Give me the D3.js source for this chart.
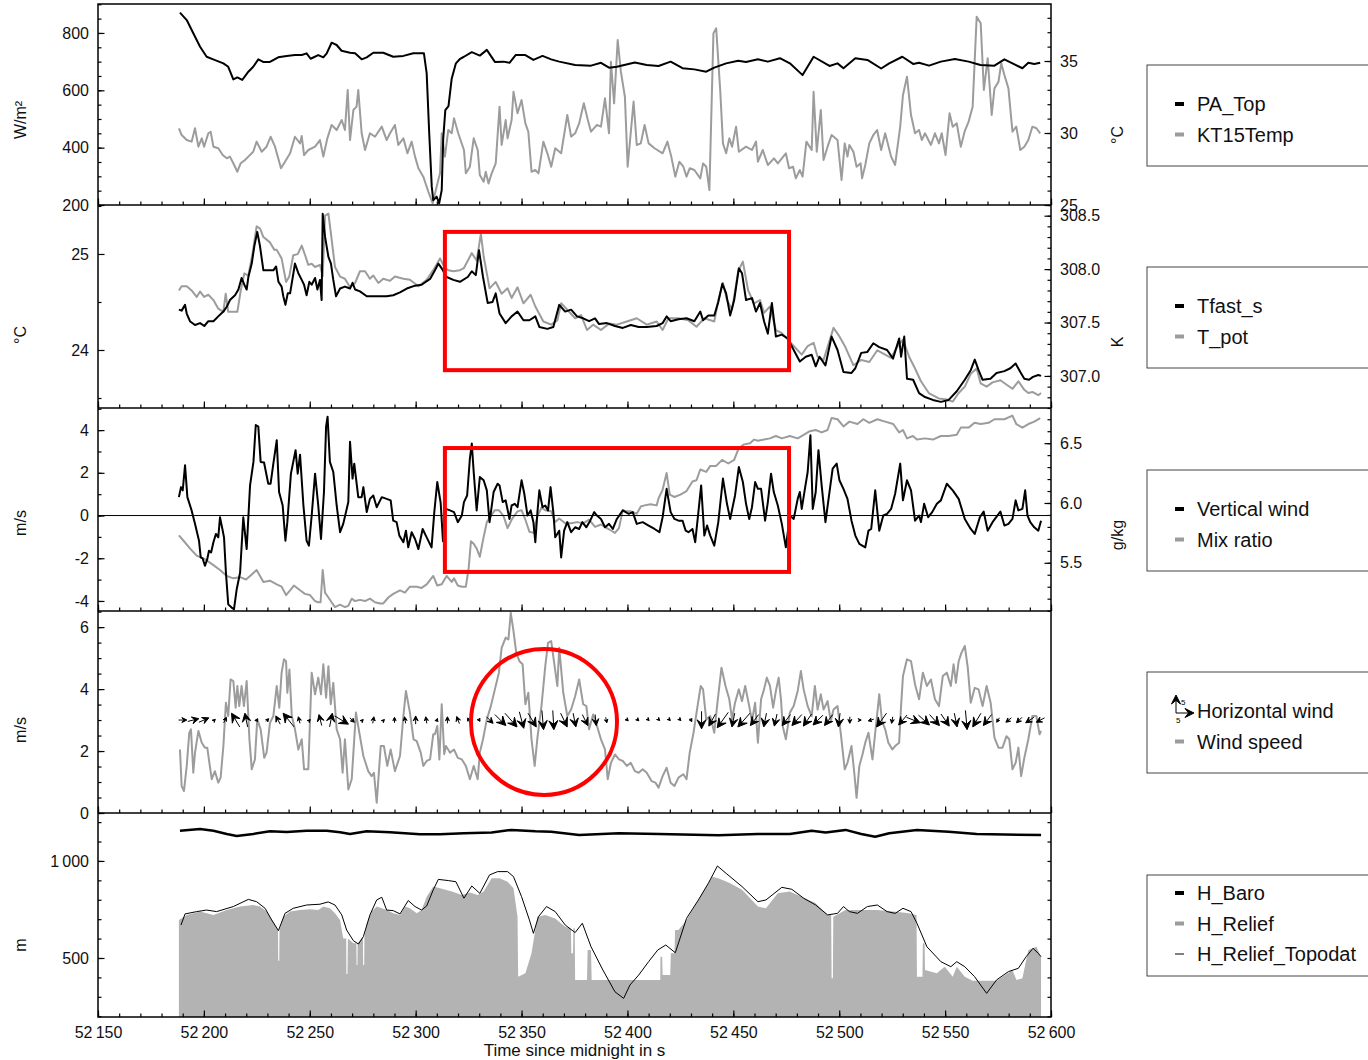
<!DOCTYPE html>
<html>
<head>
<meta charset="utf-8">
<script src="https://cdn.jsdelivr.net/npm/d3@7"></script>
<style>
body { margin: 0; background: #fff; }
</style>
</head>
<body>
<div id="chart"></div>
<script>
// ---- data (time in s since midnight) ----
const paTop = [[52188.7,871],[52191.9,845],[52195,799],[52198.2,752],[52201.3,717],[52204.4,708],[52209.2,694],[52211.5,682],[52213.9,638],[52215.8,645],[52218.1,636],[52221,665],[52223.3,682],[52225.7,708],[52228,699],[52231.2,699],[52235.1,715],[52239.1,720],[52243,723],[52246.2,723],[52248.5,729],[52250.4,710],[52254,723],[52256.4,715],[52258,729],[52260.3,766],[52262.7,758],[52265,738],[52269,731],[52271.4,729],[52274.5,708],[52276.9,715],[52280,731],[52284.7,731],[52289.4,717],[52294.2,720],[52298.9,729],[52303.9,729],[52305.2,659],[52306.4,450],[52307.6,264],[52308.3,217],[52309.9,229],[52311.1,206],[52312.3,252],[52313,430],[52314,531],[52315.5,545],[52317,640],[52319,694],[52321,710],[52322.8,717],[52326.5,733],[52330.3,721],[52333.6,741],[52337.4,699],[52341.5,700],[52344.3,696],[52347.2,723],[52351.8,723],[52355.6,706],[52359.9,720],[52364,708],[52367.8,700],[52375.3,688],[52382.8,686],[52387.5,696],[52391.3,679],[52395,682],[52403.5,697],[52409.1,688],[52414.7,685],[52420.4,700],[52426,677],[52431.6,673],[52437.2,665],[52441,679],[52446.6,694],[52452.3,703],[52456,699],[52461.6,708],[52466.3,700],[52472,712],[52476.7,694],[52482.7,653],[52487.9,717],[52495.4,685],[52499.2,694],[52502,677],[52507.6,712],[52513.3,706],[52519.8,676],[52523.6,694],[52529.8,717],[52534.9,692],[52537.7,696],[52542.4,686],[52548,700],[52554.6,709],[52561.1,700],[52566.7,688],[52573.3,686],[52578,708],[52581.8,694],[52586.5,677],[52589.3,696],[52592.1,692],[52594.9,696]];

const kt15Temp = [[52188.2,30.33],[52189.5,29.86],[52191.9,29.51],[52194.2,29.4],[52195.8,30.33],[52197.4,29.05],[52199,29.63],[52200.1,29.05],[52202.1,29.98],[52203.2,30.09],[52204.5,29.05],[52206.8,28.94],[52208.9,28.47],[52210.8,28.24],[52212.3,28.36],[52213.9,27.9],[52215.8,27.31],[52217.4,27.9],[52219.4,28.13],[52221,28.36],[52223.3,28.7],[52224.9,29.4],[52227.3,28.7],[52229.6,29.05],[52231.5,29.74],[52233.6,29.05],[52236.4,27.55],[52238.8,28.13],[52240.7,28.59],[52243,29.74],[52245.4,29.28],[52246.2,29.79],[52247.3,28.47],[52249.3,28.82],[52252.5,29.05],[52254.8,29.51],[52256.4,28.36],[52258.3,29.63],[52260.3,30.56],[52262.7,30.21],[52265.1,30.9],[52266.6,30.21],[52267.9,32.99],[52269,29.51],[52270.6,31.6],[52272.1,31.83],[52272.9,32.99],[52274.5,29.98],[52276.1,28.82],[52278.4,29.98],[52280.8,29.74],[52284,30.44],[52286.3,29.51],[52287.9,29.98],[52290.2,30.56],[52291.8,29.17],[52294.2,29.63],[52296.1,28.59],[52298.1,29.4],[52299.7,28.36],[52301.3,27.55],[52303.6,26.97],[52306,25.92],[52308,25.12],[52309.9,26.27],[52311.5,27.2],[52312.3,29.98],[52313.8,28.36],[52315.4,30.21],[52317,29.98],[52318.1,31.02],[52320.1,29.98],[52322.8,28.82],[52323.7,27.2],[52325.6,27.66],[52327.4,29.63],[52329.3,28.82],[52330.3,27.08],[52332.1,26.62],[52333.1,27.31],[52334.4,26.5],[52335.9,27.2],[52337.8,27.89],[52339.6,31.83],[52340.6,29.17],[52342.5,30.9],[52343.4,29.63],[52345.3,30.9],[52346.2,32.87],[52348.1,31.37],[52350,32.29],[52351.8,30.67],[52353.2,30.09],[52354.7,27.31],[52356.5,27.43],[52358,27.2],[52360.3,29.4],[52362.2,28.59],[52364,27.66],[52365.9,28.94],[52368.7,28.59],[52371.6,31.25],[52373.4,29.75],[52375.3,29.98],[52377.2,30.67],[52379.4,32.06],[52381.3,30.9],[52382.8,30.09],[52385.6,30.56],[52387.5,30.44],[52389.4,32.41],[52391.3,29.98],[52392.2,34.95],[52393.7,32.06],[52395.4,36.46],[52396.9,34.26],[52398.8,32.52],[52400.1,27.66],[52402.9,32.18],[52404.4,29.17],[52406.3,29.28],[52408.1,30.56],[52410,29.28],[52412.8,28.94],[52416.6,28.59],[52418.9,29.4],[52420.7,28.36],[52422.6,26.97],[52424.5,28.01],[52426.4,27.66],[52427.9,26.97],[52429.4,27.55],[52431.6,27.43],[52434.4,26.85],[52435.7,27.89],[52437.2,27.66],[52438.7,26.04],[52440.6,36.92],[52441.9,37.27],[52443.8,32.99],[52445.1,29.28],[52446.6,28.59],[52448.1,29.63],[52449.4,29.05],[52451.3,30.44],[52452.6,28.7],[52456,29.05],[52458.8,28.82],[52460.7,29.4],[52461.6,28.01],[52463.9,28.82],[52466.3,27.78],[52469.2,28.24],[52471,27.89],[52474.8,28.59],[52476.3,27.55],[52478.2,27.66],[52479.5,26.85],[52481.4,27.43],[52482.7,26.97],[52484.5,29.4],[52487,28.82],[52487.9,32.87],[52489.4,28.7],[52491.3,31.6],[52492.6,28.13],[52494.5,29.05],[52496.4,29.86],[52499.2,29.51],[52501.1,26.74],[52502.6,29.28],[52503.9,28.36],[52504.8,29.17],[52506.7,28.7],[52508.2,27.66],[52510.1,27.89],[52510.8,26.85],[52512.3,27.78],[52514.2,29.28],[52516.1,29.86],[52517.9,30.21],[52519.8,28.82],[52521.7,29.98],[52524.5,28.36],[52526.4,27.78],[52528.8,30.44],[52530.1,32.64],[52532,33.91],[52533.9,31.25],[52535.8,29.98],[52537.7,30.21],[52539,29.51],[52540.5,29.98],[52543.3,29.17],[52545.2,29.98],[52547.1,29.28],[52548.4,29.98],[52550.2,28.47],[52552.1,31.37],[52553.6,30.44],[52555.5,30.67],[52557.4,29.05],[52559.2,30.09],[52561.1,30.79],[52563,31.83],[52564.9,38.08],[52566.8,37.62],[52568.3,32.99],[52570.1,35.19],[52572,31.25],[52573.3,33.1],[52575.2,33.56],[52576.5,34.84],[52578,34.03],[52579.9,33.1],[52581.8,30.09],[52583.6,30.44],[52585.5,28.82],[52587.4,29.05],[52589.3,29.51],[52591.2,30.44],[52593.1,30.33],[52594.9,29.98]];

const tfastS = [[52188.2,24.42],[52189.5,24.41],[52191.1,24.47],[52191.9,24.38],[52193.4,24.3],[52195.8,24.26],[52198.2,24.28],[52200.2,24.25],[52202.1,24.3],[52204.5,24.3],[52206.8,24.35],[52209.2,24.4],[52210.8,24.45],[52212.3,24.52],[52214.7,24.57],[52216.3,24.63],[52217.8,24.75],[52219.1,24.68],[52220.2,24.63],[52221,24.76],[52222.6,24.9],[52223.8,25.08],[52225.2,25.23],[52226.5,25.08],[52228.1,24.83],[52230.4,24.83],[52232.8,24.83],[52234.1,24.87],[52235.2,24.71],[52236.7,24.66],[52237.5,24.56],[52238.5,24.47],[52239.6,24.59],[52240.7,24.59],[52241.9,24.75],[52243,24.9],[52244.6,24.8],[52246.2,24.73],[52247.3,24.68],[52248.5,24.57],[52249.8,24.71],[52250.9,24.68],[52252.5,24.75],[52253.6,24.63],[52254.8,24.73],[52255.6,24.52],[52256.1,25.42],[52257.2,25.18],[52258.8,24.97],[52260,24.9],[52261.1,24.73],[52262.4,24.56],[52264.3,24.64],[52266.6,24.66],[52269,24.64],[52270.2,24.7],[52271.4,24.63],[52273.7,24.61],[52276.9,24.56],[52280,24.56],[52283.2,24.56],[52286.3,24.56],[52289.4,24.57],[52292.6,24.6],[52295.8,24.64],[52299.7,24.67],[52302.8,24.68],[52306.8,24.74],[52309.1,24.83],[52310.7,24.9],[52312.3,24.85],[52314.6,24.76],[52317.8,24.73],[52320.9,24.71],[52324.6,24.76],[52326.5,24.82],[52328.4,24.78],[52329.9,25.04],[52331.8,24.76],[52334,24.49],[52336.3,24.5],[52337.8,24.59],[52339.6,24.38],[52342.5,24.28],[52345.3,24.35],[52348.1,24.4],[52350.9,24.31],[52353.7,24.31],[52356.5,24.35],[52358.4,24.24],[52362.2,24.22],[52365,24.24],[52367.8,24.47],[52370.6,24.4],[52373.4,24.42],[52376.2,24.35],[52379.1,24.33],[52381.9,24.3],[52384.7,24.33],[52386.6,24.27],[52390.3,24.28],[52394.1,24.25],[52397.8,24.23],[52401.6,24.26],[52405.3,24.24],[52409.1,24.24],[52413.8,24.25],[52416.6,24.28],[52418.5,24.35],[52420.4,24.3],[52424.1,24.32],[52427.9,24.33],[52431.6,24.3],[52434.4,24.4],[52435.7,24.31],[52438.2,24.36],[52441,24.36],[52442.9,24.5],[52444.8,24.69],[52446.6,24.59],[52448.5,24.36],[52450.4,24.52],[52452.6,24.85],[52454.1,24.8],[52456,24.52],[52458.8,24.54],[52460.7,24.4],[52462.6,24.49],[52464.5,24.3],[52466.3,24.17],[52468.2,24.49],[52470.1,24.14],[52472.9,24.16],[52475.7,24.12],[52478.5,24],[52481.4,23.88],[52484.2,23.93],[52487,23.95],[52488.9,23.83],[52490.7,23.93],[52493.5,23.84],[52496.4,24.14],[52499.2,24],[52502,23.77],[52505.7,23.76],[52507.6,23.81],[52510.4,23.97],[52513.3,23.98],[52516.1,24.07],[52518.9,24.03],[52522.6,24],[52525.4,23.91],[52528.3,24.12],[52529.2,23.93],[52530.7,24.14],[52532,23.7],[52534.9,23.69],[52537.7,23.55],[52540.5,23.51],[52544.2,23.48],[52548,23.46],[52551.7,23.48],[52555.5,23.57],[52559.3,23.69],[52562.1,23.79],[52564,23.9],[52565.8,23.79],[52567.7,23.69],[52571.4,23.7],[52574.3,23.76],[52578,23.78],[52580.8,23.81],[52583.3,23.86],[52585.5,23.77],[52587.4,23.7],[52589.6,23.69],[52591.5,23.72],[52594,23.74],[52595.3,23.73]];

const tPot = [[52188.2,307.8],[52189.5,307.84],[52191.9,307.84],[52194.2,307.8],[52196.6,307.74],[52198.2,307.79],[52200.1,307.74],[52202.1,307.76],[52204.5,307.71],[52206.8,307.63],[52209.2,307.6],[52210.3,307.77],[52211.5,307.6],[52213.9,307.6],[52215.8,307.6],[52217.4,307.8],[52219.1,307.96],[52221,307.94],[52223,308.15],[52224.9,308.4],[52226.5,308.38],[52228.1,308.3],[52231.2,308.25],[52233.3,308.18],[52234.4,308.18],[52236.7,308.1],[52238.8,307.88],[52240.3,307.93],[52242.2,308.13],[52244.3,308.14],[52246.2,308.22],[52247.8,308.13],[52249.3,308.04],[52250.9,308.05],[52252.5,308.02],[52254.8,308.04],[52256.1,307.93],[52257.2,308.5],[52258.8,308.52],[52260,308.33],[52261.9,308.02],[52264.3,307.93],[52266.6,307.91],[52269,307.83],[52271.4,307.87],[52273.7,307.98],[52276.1,307.98],[52278.4,307.91],[52280,307.94],[52282.4,307.87],[52284.7,307.91],[52287.9,307.89],[52290.2,307.93],[52294.2,307.91],[52297.3,307.9],[52301.3,307.84],[52305.2,307.9],[52308.3,307.99],[52311.5,308.1],[52313.8,308.01],[52315.4,307.99],[52317.8,307.98],[52320.9,307.99],[52322.8,308.01],[52326.5,308.15],[52328.8,308.08],[52330.8,308.33],[52332.1,308.12],[52334.9,307.82],[52337.8,307.88],[52340.6,307.77],[52343.4,307.82],[52345.3,307.73],[52348.1,307.83],[52350.9,307.68],[52354.3,307.76],[52356.5,307.65],[52360.3,307.51],[52364,307.48],[52366.9,307.52],[52368.7,307.68],[52371.6,307.62],[52375.3,307.54],[52378.1,307.57],[52380.9,307.43],[52383.8,307.48],[52387.5,307.43],[52391.3,307.49],[52395,307.48],[52399.7,307.51],[52404.4,307.54],[52409.1,307.48],[52413.8,307.51],[52416.6,307.43],[52419.4,307.54],[52424.1,307.54],[52428.8,307.52],[52432.6,307.46],[52436.3,307.54],[52441,307.51],[52442.9,307.71],[52445.1,307.87],[52447,307.71],[52449.4,307.62],[52452.3,307.98],[52454.5,308.07],[52457,307.8],[52459.8,307.68],[52462.6,307.71],[52464.5,307.59],[52467.3,307.65],[52470.1,307.43],[52472.9,307.4],[52475.7,307.34],[52478.5,307.28],[52482.3,307.2],[52485.1,307.28],[52487.9,307.31],[52489.8,307.18],[52492.6,307.15],[52494.5,307.27],[52497.3,307.45],[52500.1,307.37],[52502.9,307.27],[52506.7,307.1],[52510.4,307.15],[52514.2,307.13],[52518,307.24],[52520.8,307.21],[52524.5,307.17],[52527.3,307.27],[52530.1,307.34],[52533,307.18],[52535.8,307.07],[52538.6,306.95],[52542.3,306.84],[52547,306.79],[52550.8,306.78],[52553.6,306.76],[52556.4,306.84],[52559.3,306.9],[52562.1,307.02],[52564.9,307.07],[52566.8,306.93],[52569.6,306.9],[52572.4,306.94],[52576.1,306.96],[52578.9,306.92],[52581.8,306.88],[52584.6,306.95],[52587.4,306.87],[52589.3,306.84],[52591.2,306.85],[52594,306.82],[52595.3,306.84]];

const verticalWind = [[52188.2,0.86],[52189.2,1.33],[52190,1.18],[52191.1,2.35],[52192.2,0.86],[52194.2,0.24],[52195.8,-0.39],[52197.7,-1.18],[52198.5,-1.96],[52199.4,-2.01],[52200.5,-2.35],[52201.6,-2.04],[52202.4,-1.65],[52203.4,-1.73],[52204.5,-1.25],[52205.7,-0.86],[52206.8,-1.02],[52207.6,-0.08],[52208.9,-0.71],[52209.5,-1.02],[52210.4,-2.67],[52211.5,-4.16],[52213.1,-4.31],[52214.2,-4.39],[52215.5,-3.45],[52217.1,-2.67],[52218.6,-0.08],[52220.2,-1.57],[52221.8,1.41],[52223.4,2.51],[52224.5,4.24],[52225.7,4.16],[52226.8,2.51],[52228.4,2.48],[52230.4,1.49],[52231.5,1.49],[52232.8,2.43],[52234.4,3.53],[52235.5,1.1],[52237.2,0.47],[52238.5,-1.18],[52239.4,-0.31],[52241.1,1.96],[52243.3,3.06],[52244.3,1.96],[52245.4,2.85],[52247,0.47],[52248.5,-1.18],[52249.6,-1.41],[52250.9,0],[52252.5,1.96],[52254,0.47],[52255.3,-1.1],[52256.7,1.1],[52257.7,4.16],[52258.4,4.63],[52259.5,2.51],[52261.1,2.04],[52262.7,0.47],[52264.3,-0.78],[52265.8,-0.39],[52268.2,0.63],[52269,3.45],[52270.2,1.73],[52271,2.43],[52272.9,0.86],[52274.5,0.86],[52275.3,1.33],[52276.9,0.16],[52278.4,0.78],[52280,0.94],[52281.6,0.39],[52284,0.86],[52286.3,0.78],[52288.2,0.71],[52289.4,-0.24],[52291,-0.31],[52292.3,-0.94],[52294.2,-1.25],[52295.4,-0.71],[52296.5,-1.49],[52298.1,-0.78],[52299.7,-1.1],[52301.3,-1.57],[52303.3,-0.63],[52305.2,-1.02],[52307.5,-1.49],[52308.8,0.16],[52310.2,1.57],[52311.8,0.6],[52312.9,-1.2],[52314.3,0.31],[52316.2,0.24],[52318.1,0.16],[52319.9,-0.31],[52321.8,0],[52322.8,0.63],[52324.3,0.94],[52325.6,2.67],[52326.5,3.37],[52327.4,2.04],[52328.8,0.24],[52330.3,1.8],[52332.1,1.65],[52333.6,1.18],[52334.9,-0.31],[52336.8,1.1],[52338.7,1.49],[52339.6,1.41],[52341.1,0.63],[52342.5,0.71],[52344.3,-0.16],[52345.3,0.47],[52346.8,0.55],[52348.1,0.39],[52350,1.65],[52351.3,1.02],[52352.8,0],[52354.3,0.24],[52355.6,-0.31],[52356.5,-1.25],[52357.5,0.16],[52358.4,1.18],[52359.9,0.39],[52361.2,0.47],[52362.5,0.24],[52363.7,1.33],[52365,0.16],[52365.9,-1.02],[52367.8,-0.71],[52368.7,-1.96],[52370.1,-0.71],[52371.6,-0.31],[52373.4,-0.78],[52375.3,-0.55],[52377.2,-0.63],[52378.7,-0.31],[52380.6,-0.55],[52382.4,-0.24],[52384.3,0.16],[52385.6,0],[52387.5,-0.16],[52389.4,-0.55],[52391.3,-0.39],[52393.1,-0.63],[52395,-0.16],[52397.8,0.24],[52400.6,0.08],[52402.5,0.16],[52404.4,-0.39],[52407.2,-0.31],[52410,-0.47],[52412.8,-0.63],[52415.1,-0.78],[52416.6,-0.08],[52418.5,1.25],[52420.4,0.16],[52422.2,-0.16],[52424.1,-0.24],[52426,-0.24],[52427.5,-0.71],[52428.8,-0.78],[52430.7,-0.63],[52432,-1.25],[52433.5,0.16],[52434.8,1.41],[52436.3,-0.94],[52437.6,-0.47],[52439.1,-0.94],[52441,-1.41],[52442.9,-0.31],[52445.1,1.73],[52447,0.55],[52448.5,-0.16],[52450.8,0.94],[52452.6,2.27],[52454.5,1.57],[52456,0.55],[52457.5,-0.16],[52458.8,0.39],[52460.3,1.57],[52461.6,1.25],[52463.1,1.25],[52465,-0.24],[52466.3,0.63],[52467.8,1.96],[52469.1,1.1],[52471,0.47],[52472.9,-0.39],[52474.8,-1.49],[52476.7,0],[52478.5,-0.16],[52480.4,0.78],[52481.4,1.1],[52482.3,0.31],[52483.8,1.25],[52485.1,2.04],[52486.4,3.76],[52487.5,0.31],[52488.9,1.1],[52490.2,3.06],[52491.7,1.41],[52493.5,-0.31],[52495.4,1.1],[52496.9,2.2],[52498.8,2.43],[52500.1,1.65],[52502,1.25],[52503.9,0.78],[52505.8,-0.24],[52507.6,-0.94],[52509.5,-1.33],[52512.3,-1.49],[52513.8,-0.71],[52515.1,-0.63],[52517,1.18],[52518.9,-0.71],[52520.8,0],[52522.6,0.08],[52524.5,0.31],[52526.4,1.02],[52528.8,2.43],[52530.1,0.71],[52532,1.65],[52533.9,1.18],[52535.8,-0.24],[52537.7,0],[52538.6,-0.31],[52540.1,0.55],[52542,-0.08],[52543.9,0.16],[52546.1,0.55],[52548,0.71],[52550.8,1.49],[52553.6,1.18],[52556.4,0.78],[52559.3,-0.16],[52562.1,-0.63],[52564,-0.86],[52566.4,-0.08],[52568.2,0.19],[52570.1,-0.71],[52572.4,-0.31],[52576.1,0.19],[52578,-0.47],[52579.9,-0.39],[52581.8,-0.16],[52583.3,0.71],[52584.6,0.24],[52586.5,0.31],[52587.8,1.18],[52588.9,0],[52590.2,-0.31],[52592.1,-0.55],[52594,-0.71],[52595.3,-0.24]];

const mixRatio = [[52188.2,5.73],[52190.6,5.68],[52193.4,5.62],[52196.6,5.56],[52200.5,5.53],[52204.5,5.48],[52207.6,5.44],[52210.8,5.39],[52213.9,5.37],[52217.1,5.38],[52219.9,5.36],[52221.8,5.39],[52224.9,5.44],[52228.1,5.34],[52231.2,5.35],[52234.4,5.32],[52236.7,5.3],[52238.8,5.23],[52240.7,5.27],[52242.5,5.31],[52245.4,5.27],[52247.7,5.24],[52250.1,5.23],[52252.5,5.18],[52254,5.17],[52255.1,5.17],[52256.1,5.44],[52257.2,5.25],[52258.8,5.21],[52260.3,5.17],[52261.9,5.13],[52264.3,5.15],[52266.6,5.13],[52268.2,5.14],[52269.8,5.2],[52271.4,5.18],[52273.7,5.19],[52276.1,5.18],[52278.4,5.2],[52280.8,5.17],[52283.2,5.16],[52284.7,5.16],[52287.1,5.21],[52289.4,5.24],[52292.6,5.27],[52294.9,5.25],[52297.3,5.3],[52300.5,5.3],[52302.8,5.29],[52305.2,5.32],[52308.3,5.39],[52310.2,5.31],[52312.3,5.32],[52314.6,5.39],[52317,5.34],[52318.1,5.37],[52319.9,5.31],[52321.8,5.3],[52323.7,5.3],[52325,5.45],[52326.1,5.68],[52327.4,5.66],[52328.8,5.62],[52330.3,5.55],[52331.8,5.69],[52333.6,5.84],[52335.5,5.89],[52337.4,5.94],[52339.3,5.94],[52341.5,5.89],[52343.4,5.79],[52345.6,5.87],[52348.1,5.93],[52350,5.94],[52351.8,5.86],[52353.7,5.76],[52355.6,5.75],[52357.5,5.89],[52359.4,5.96],[52361.2,5.94],[52364,5.93],[52365.9,5.84],[52367.8,5.87],[52370.6,5.83],[52373.4,5.83],[52376.2,5.84],[52379.1,5.83],[52381.9,5.86],[52384.7,5.8],[52387.5,5.82],[52390.3,5.79],[52392.2,5.77],[52394.1,5.75],[52396,5.79],[52397.8,5.94],[52399.7,5.93],[52401.6,5.93],[52404.4,5.91],[52406.3,5.97],[52408.1,5.98],[52410.9,5.99],[52413.8,5.98],[52414.7,6.04],[52416.6,6.11],[52418.5,6.25],[52420,6.07],[52422.2,6.05],[52425,6.07],[52427.9,6.1],[52430.7,6.18],[52432.6,6.19],[52434.4,6.28],[52437.2,6.26],[52439.1,6.31],[52441.9,6.31],[52444.7,6.36],[52447.6,6.33],[52450.4,6.36],[52452.6,6.46],[52455.1,6.49],[52457.9,6.5],[52459.8,6.53],[52461.6,6.52],[52464.5,6.53],[52467.3,6.54],[52470.1,6.56],[52472.9,6.54],[52476.7,6.56],[52480.4,6.54],[52483.2,6.57],[52486.1,6.6],[52488.9,6.61],[52491.7,6.59],[52494.5,6.61],[52496.4,6.71],[52499.2,6.7],[52502,6.64],[52504.8,6.68],[52508.6,6.66],[52511.4,6.7],[52514.2,6.67],[52518,6.7],[52521.7,6.68],[52525.5,6.66],[52528.3,6.59],[52530.1,6.61],[52532,6.54],[52534.8,6.56],[52536.7,6.53],[52540.5,6.54],[52544.2,6.53],[52548,6.56],[52551.7,6.56],[52555.5,6.57],[52557.4,6.63],[52561.1,6.63],[52563.9,6.67],[52566.8,6.66],[52570.5,6.67],[52573.3,6.7],[52578,6.7],[52581.8,6.73],[52583.6,6.66],[52586.5,6.63],[52589.3,6.66],[52592.1,6.68],[52594.9,6.71]];

const windSpeed = [[52188.7,2.05],[52189.5,0.87],[52190.6,0.71],[52191.9,1.52],[52193.1,2.59],[52193.9,2.7],[52195,1.3],[52195.8,1.95],[52197.4,2.65],[52199,2.27],[52200.5,2.11],[52201.6,2.11],[52202.6,1.62],[52203.7,1.09],[52205.2,1.35],[52206.8,0.98],[52207.9,1.14],[52209.2,2.16],[52210.4,3.56],[52211.5,3.13],[52212.6,4.31],[52213.9,4.26],[52215,3.4],[52215.8,4.1],[52216.7,3.45],[52217.8,4.1],[52218.9,3.45],[52220.2,4.26],[52221.5,2.38],[52222.6,1.41],[52224.1,1.73],[52225.2,3.02],[52226.8,2.7],[52228.5,1.78],[52229.6,1.95],[52231.2,2.91],[52232.8,3.13],[52234.4,4.1],[52235.6,3.4],[52236.7,4.53],[52237.8,4.96],[52238.8,4.9],[52239.4,3.88],[52240.4,4.63],[52241.5,3.13],[52243,2.7],[52244.6,2.05],[52246.2,2.38],[52247.3,1.41],[52249.3,1.41],[52250.9,4.53],[52252.5,3.83],[52254,4.37],[52255.3,3.83],[52256.4,4.8],[52257.7,3.72],[52258.8,4.74],[52259.9,3.51],[52261.1,4.2],[52262.7,2.7],[52264.3,2.38],[52265.5,1.3],[52266.6,2.38],[52268.2,0.76],[52269.8,1.09],[52271.8,3.24],[52273.4,2.59],[52275.3,1.84],[52277.6,1.35],[52279.2,1.19],[52280.3,1.3],[52281.6,0.33],[52283.5,2.16],[52285,2.16],[52286.6,1.52],[52288.2,2.05],[52290.2,1.35],[52292.6,1.84],[52294.2,3.13],[52295.4,3.94],[52297.3,3.24],[52299,2.38],[52300.5,2.32],[52302.4,1.95],[52303.6,1.52],[52305.2,1.68],[52306.8,1.73],[52308.3,2.54],[52309.1,2.54],[52310.2,2.81],[52311.2,1.73],[52312.3,3.51],[52313.5,1.9],[52314.3,2.16],[52316.2,1.95],[52318.1,2.05],[52319.9,1.78],[52321.8,1.73],[52323.7,1.52],[52325.6,1.09],[52327.4,1.52],[52329.3,1.09],[52330.3,1.95],[52331.8,2.38],[52333.6,3.02],[52335.5,3.45],[52337.4,3.99],[52339.3,4.53],[52340.6,5.33],[52342.5,5.66],[52343.8,5.6],[52344.9,6.46],[52346.2,5.87],[52347.5,5.17],[52349,4.9],[52350.5,4.8],[52351.8,3.51],[52353.2,3.88],[52354.7,2.38],[52356.2,1.52],[52357.5,2.43],[52359.4,3.45],[52361.2,4.74],[52362.5,5.49],[52364,5.55],[52365.5,4.8],[52366.9,4.1],[52367.8,5.33],[52369.7,3.88],[52371.6,3.13],[52373.4,3.34],[52375.3,3.77],[52377.2,4.31],[52379.1,3.51],[52380.6,3.45],[52381.9,2.7],[52383.8,3.18],[52385.6,2.81],[52387.5,2.38],[52389.4,2.05],[52390.7,1.09],[52392.2,1.62],[52394.1,1.89],[52396,1.73],[52397.8,1.68],[52399.7,1.52],[52401.6,1.62],[52403.5,1.35],[52405.3,1.3],[52407.2,1.41],[52409.1,1.3],[52411.4,1.03],[52413.2,0.98],[52414.7,0.82],[52416.6,1.19],[52418.5,1.46],[52420.4,0.98],[52422.2,0.87],[52424.1,1.14],[52426.4,1.25],[52427.9,1.09],[52429.4,1.95],[52431.2,2.59],[52433.1,3.45],[52434.6,4.1],[52435.7,3.99],[52437.2,3.02],[52439.1,3.13],[52441,2.59],[52442.5,3.56],[52444.4,4.69],[52446.3,4.1],[52448.1,3.67],[52449.4,3.02],[52450.8,3.56],[52452.6,3.99],[52454.1,3.61],[52455.6,4.1],[52457.5,3.45],[52458.8,2.97],[52460.3,3.56],[52461.6,2.27],[52463.1,3.67],[52464.5,3.99],[52465.8,4.37],[52467.3,4.1],[52468.8,3.4],[52470.1,3.94],[52471.4,4.37],[52472.5,3.67],[52473.3,2.81],[52474.8,2.38],[52476.7,3.24],[52478.5,3.45],[52480.4,3.94],[52481.9,4.58],[52483.2,3.99],[52485.1,3.45],[52487,3.13],[52488.5,4.1],[52489.8,3.34],[52491.3,3.83],[52492.6,3.34],[52494.5,3.61],[52496,2.97],[52497.3,3.34],[52499.2,3.45],[52500.7,2.59],[52502.6,1.41],[52503.9,1.62],[52505.8,2.16],[52507.1,1.3],[52508.2,0.49],[52509.5,1.52],[52510.8,1.84],[52512.3,2.27],[52513.8,2.59],[52515.7,1.73],[52517,2.59],[52518.9,3.83],[52520.2,2.97],[52521.7,2.7],[52523.2,2.27],[52525.1,2.05],[52526.4,2.16],[52528.3,2.27],[52529.2,3.45],[52530.1,4.42],[52532,4.96],[52533.9,4.9],[52535.8,4.15],[52537.7,3.67],[52539.5,4.53],[52541.4,4.1],[52543.3,4.31],[52545.2,3.67],[52547.1,3.45],[52548.9,4.42],[52550.8,4.53],[52552.7,4.1],[52554,4.8],[52555.1,4.2],[52556.4,4.9],[52557.7,5.17],[52559.3,5.39],[52560.7,4.69],[52562.1,3.56],[52564,4.04],[52565.8,3.99],[52567.7,3.45],[52569.6,4.1],[52571.5,3.56],[52573.3,2.43],[52575.2,2.11],[52577.1,2.11],[52579,2.48],[52580.3,2.38],[52581.8,1.41],[52583.3,1.62],[52584.6,2.11],[52585.9,1.19],[52587.4,1.78],[52589.3,2.38],[52591.2,3.13],[52593.1,3.13],[52594.6,2.54],[52595.3,2.65]];

// horizontal wind vectors (east u, north v in m/s), drawn at the 3 m/s line
const windTime = [52190,52195,52200,52205,52210,52215,52220,52225,52230,52235,52240,52245,52250,52255,52260,52265,52270,52275,52280,52285,52290,52295,52300,52305,52310,52315,52320,52325,52330,52335,52340,52345,52350,52355,52360,52365,52370,52375,52380,52385,52390,52395,52400,52405,52410,52415,52420,52425,52430,52435,52440,52445,52450,52455,52460,52465,52470,52475,52480,52485,52490,52495,52500,52505,52510,52515,52520,52525,52530,52535,52540,52545,52550,52555,52560,52565,52570,52575,52580,52585,52590,52595];
const windU = [1.5,2.0,1.8,0.3,0.5,-1.5,-0.5,0.3,0.5,-0.8,-2.0,-0.3,0.2,-0.5,0.5,2.5,0.8,0.2,0.2,0.2,0,-0.2,0,-0.2,0.2,0,-0.5,-0.3,0.3,1.2,2.0,2.2,0.8,1.5,0.3,0.2,1.2,0.5,1.0,0.2,0.2,0,0.3,0.3,0.2,0.2,0.2,0.2,0.3,0,-1.2,-2.0,-0.5,-2.2,-1.5,-0.5,-0.5,-1.5,-1.8,-1.5,-1.8,-1.5,-0.3,0,0.3,-1.0,-1.8,-0.2,-1.5,2.5,2.0,1.8,1.5,0.5,0.3,-1.5,-1.5,-0.5,-1.0,-1.0,-1.5,-1.5];
const windV = [0,0.5,0.8,0.3,1.0,2.5,2.5,0.5,0.5,1.5,2.5,1.2,0.2,2.0,2.5,-1.5,-0.8,0.2,1.2,0.2,1.0,1.2,1.5,1.2,0.6,1.2,1.3,0.8,-0.5,-1.2,-2.0,-2.5,-3.0,-2.5,-3.5,-3.5,-2.5,-2.5,-2.0,-2.0,-1.0,-0.8,-0.3,-0.3,-0.2,-0.2,-0.2,-0.2,-0.6,-3.2,-2.2,-2.8,-2.5,-2.5,-2.0,-2.5,-2.2,-2.0,-2.0,-2.2,-1.8,-2.0,-2.5,-1.2,0,-0.3,-2.5,-1.2,-1.8,-1.0,-1.8,-2.0,-2.2,-2.5,-3.5,-2.5,-2.0,-0.8,-0.8,-1.0,-1.0,-0.8];

const hBaro = [[52188.7,1156],[52198.2,1165],[52204.5,1156],[52210.8,1139],[52215.5,1129],[52223.3,1139],[52231.2,1153],[52239.1,1149],[52248.5,1155],[52258,1156],[52264.3,1148],[52269,1139],[52276.9,1153],[52287.9,1148],[52302,1137],[52311.5,1137],[52322.8,1143],[52335.9,1146],[52345.3,1160],[52356.5,1153],[52364,1151],[52377.2,1134],[52395.9,1143],[52414.7,1139],[52442.9,1132],[52461.6,1139],[52476.7,1139],[52487,1155],[52493.6,1146],[52503,1160],[52510.4,1139],[52517,1125],[52523.6,1143],[52536.7,1160],[52551.7,1151],[52564.9,1139],[52578,1136],[52595.3,1134]];

const hRelief = [[52188.2,696],[52191.9,722],[52198.2,739],[52204.5,722],[52210.8,747],[52217.1,765],[52223.3,773],[52226.5,765],[52229.6,739],[52232.8,687],[52235,644],[52235.1,486],[52235.6,486],[52235.7,644],[52237.5,713],[52240.7,739],[52245.4,747],[52250.1,751],[52254,747],[52256.4,765],[52259.5,756],[52261.9,730],[52264.3,696],[52265.8,601],[52267.2,601],[52267.3,418],[52267.8,418],[52268,601],[52270.6,576],[52272,576],[52272.1,464],[52272.5,464],[52272.6,576],[52275.1,610],[52275.2,464],[52275.7,464],[52275.8,610],[52276.9,679],[52279.2,739],[52281.6,765],[52284,756],[52286.3,747],[52289.4,730],[52292.6,722],[52295,765],[52297.3,756],[52300.5,730],[52302.8,747],[52305.2,816],[52308.3,868],[52311.5,859],[52317.1,842],[52321.8,825],[52325.6,837],[52329.3,825],[52332.1,842],[52335.9,911],[52339.6,911],[52343.4,893],[52346.2,859],[52348.1,713],[52348.4,404],[52351.8,421],[52354.7,524],[52357.5,713],[52361.2,722],[52365.9,704],[52370.6,661],[52372.5,653],[52373.3,653],[52373.5,524],[52374.3,524],[52374.5,653],[52375.1,653],[52375.3,387],[52380.9,387],[52381.2,541],[52382.8,541],[52383.1,387],[52415.5,387],[52415.6,507],[52416.4,507],[52416.6,412],[52420.2,412],[52420.5,524],[52422.2,524],[52422.5,644],[52424.1,644],[52427.9,696],[52433.5,799],[52440.1,919],[52442.9,911],[52448.5,885],[52454.1,851],[52461.6,765],[52465.4,756],[52471,833],[52476.6,842],[52482.3,816],[52488.9,782],[52494.5,722],[52496.2,722],[52496.4,395],[52497,395],[52497.2,713],[52503,747],[52510.4,747],[52518,747],[52525.5,739],[52533,730],[52536.5,722],[52536.7,404],[52539.3,404],[52539.5,576],[52540.3,576],[52540.5,438],[52546.1,421],[52549.8,455],[52553.6,404],[52555.5,455],[52559.3,404],[52563,383],[52574.3,383],[52581.8,438],[52583.7,387],[52586.5,395],[52589.3,541],[52593.1,558],[52595.3,507]];

const hReliefTopodat = [[52189.2,670],[52191.1,727],[52196.6,739],[52201.3,747],[52206,739],[52213.9,765],[52221,802],[52224.9,790],[52228.9,756],[52232,696],[52235.2,641],[52238.3,730],[52242.2,756],[52248.5,773],[52254.8,777],[52258.7,789],[52261.9,773],[52265.1,722],[52267.4,644],[52270.6,589],[52273,572],[52275.3,610],[52278.4,722],[52281.6,799],[52284,813],[52286.3,747],[52289.4,744],[52292.6,727],[52296.5,796],[52299.7,765],[52302.8,747],[52305.2,768],[52308.3,851],[52310.7,905],[52315.4,899],[52319,893],[52322.8,808],[52326.5,871],[52330.3,833],[52334.9,928],[52338.7,945],[52343.4,945],[52346.2,919],[52350,816],[52353.7,696],[52355.6,627],[52358,713],[52361.8,765],[52365.9,739],[52370.6,670],[52375.3,631],[52378.7,679],[52382.8,558],[52388.4,438],[52394.1,326],[52398.2,292],[52401.2,361],[52405.3,412],[52410,481],[52414.3,541],[52418.1,567],[52422.6,527],[52427.9,704],[52433.5,799],[52438.2,885],[52442.5,974],[52446.6,936],[52454.1,868],[52461.6,790],[52465.4,799],[52472.9,864],[52477.6,854],[52483.2,808],[52488.9,773],[52494.5,722],[52499.2,730],[52502,765],[52504.8,739],[52508.6,730],[52513.3,765],[52518,773],[52522.6,739],[52526.4,730],[52530.1,756],[52533.9,739],[52536.7,679],[52541.4,558],[52548,481],[52552.7,455],[52555.5,481],[52559.3,455],[52563.9,404],[52569.6,318],[52574.3,387],[52579.9,430],[52584.6,447],[52588.3,507],[52591.5,550],[52594,524],[52595.3,507]];

// red annotations in data units
const markBoxes = [
  {panel: 1, t0: 52313.8, t1: 52476.3, v0: 23.79, v1: 25.23},
  {panel: 2, t0: 52313.8, t1: 52476.3, v0: -2.64, v1: 3.16}
];
const markCircle = {t: 52360.6, v: 2.94};

// ---- layout ----
let w = 1368;
let h = 1060;
let left = 98;
let right = 1051;
let tops = [4, 205, 408, 611, 813];
let bottoms = [205, 408, 611, 813, 1017];
const black = "#000";
const grey = "#9c9c9c";
const fontFam = "'Liberation Sans', Arial, sans-serif";

let svg = d3.select("#chart").append("svg")
    .attr("width", w)
    .attr("height", h)
    .style("background-color", "white");

let xScale = d3.scaleLinear().domain([52150, 52600]).range([left, right]);

let yScales = [
  {l: d3.scaleLinear().domain([200, 901]).range([205, 4]),
   r: d3.scaleLinear().domain([25, 38.96]).range([205, 4])},
  {l: d3.scaleLinear().domain([23.396, 25.51]).range([408, 205]),
   r: d3.scaleLinear().domain([306.70, 308.60]).range([408, 205])},
  {l: d3.scaleLinear().domain([-4.47, 5.035]).range([611, 408]),
   r: d3.scaleLinear().domain([5.097, 6.794]).range([611, 408])},
  {l: d3.scaleLinear().domain([0, 6.52]).range([813, 611])},
  {l: d3.scaleLinear().domain([196, 1247]).range([1017, 813])}
];

let locale = d3.formatLocale({decimal: ".", thousands: "\u2009", grouping: [3], currency: ["", ""], minus: "-"});
let fmtInt = locale.format(",");
let fmt1 = locale.format(".1f");

// clip paths
let defs = svg.append("defs");
tops.forEach(function(t, i) {
  defs.append("clipPath").attr("id", "clip" + i)
    .append("rect")
    .attr("x", left).attr("y", t)
    .attr("width", right - left).attr("height", bottoms[i] - t);
});

function drawLine(panel, data, ys, color, width) {
  let maker = d3.line()
      .x(d => xScale(d[0]))
      .y(d => ys(d[1]));
  svg.append("path")
    .datum(data)
    .attr("clip-path", "url(#clip" + panel + ")")
    .attr("d", maker)
    .attr("fill", "none")
    .attr("stroke", color)
    .attr("stroke-width", width)
    .attr("stroke-linejoin", "round");
}

// ---- panel 5 relief (filled) ----
let ys5 = yScales[4].l;
svg.append("path")
  .datum(hRelief)
  .attr("clip-path", "url(#clip4)")
  .attr("d", d3.area()
      .x(d => xScale(d[0]))
      .y0(ys5(196))
      .y1(d => ys5(d[1])))
  .attr("fill", "#b3b3b3");
drawLine(4, hReliefTopodat, ys5, black, 1);
drawLine(4, hBaro, ys5, black, 2.5);

// ---- panel 1..4 lines ----
drawLine(0, kt15Temp, yScales[0].r, grey, 2);
drawLine(0, paTop, yScales[0].l, black, 2);
drawLine(1, tPot, yScales[1].r, grey, 2);
drawLine(1, tfastS, yScales[1].l, black, 2);
drawLine(2, mixRatio, yScales[2].r, grey, 2);
// zero line
svg.append("line")
  .attr("x1", left).attr("x2", right)
  .attr("y1", yScales[2].l(0)).attr("y2", yScales[2].l(0))
  .attr("stroke", black).attr("stroke-width", 1);
drawLine(2, verticalWind, yScales[2].l, black, 2);
drawLine(3, windSpeed, yScales[3].l, grey, 2);

// wind arrows
let arrowK = 5.5;
function arrowPath(cx, cy, u, v, k) {
  let len = Math.hypot(u, v) * k;
  if (len < 0.3) return "";
  let dx = u * k / len, dy = -v * k / len;
  let tx = cx - dx * len / 2, ty = cy - dy * len / 2;
  let hx = cx + dx * len / 2, hy = cy + dy * len / 2;
  let hl = Math.max(3, Math.min(9, len * 0.6));
  let hw = hl * 0.5;
  let bx = hx - dx * hl, by = hy - dy * hl;
  let px = -dy, py = dx;
  let nx = hx - dx * hl * 0.6, ny = hy - dy * hl * 0.6;
  return "M" + tx + "," + ty + "L" + nx + "," + ny +
    "M" + hx + "," + hy + "L" + (bx + px * hw) + "," + (by + py * hw) +
    "L" + nx + "," + ny +
    "L" + (bx - px * hw) + "," + (by - py * hw) + "Z";
}
let arrowG = svg.append("g");
windTime.forEach(function(t, i) {
  arrowG.append("path")
    .attr("d", arrowPath(xScale(t), yScales[3].l(3), windU[i], windV[i], arrowK))
    .attr("fill", black)
    .attr("stroke", black)
    .attr("stroke-width", 1);
});

// ---- frames ----
svg.append("rect")
  .attr("x", left).attr("y", tops[0])
  .attr("width", right - left).attr("height", bottoms[4] - tops[0])
  .attr("fill", "none").attr("stroke", black).attr("stroke-width", 1.5);
bottoms.slice(0, 4).forEach(function(b) {
  svg.append("line").attr("x1", left).attr("x2", right)
    .attr("y1", b).attr("y2", b)
    .attr("stroke", black).attr("stroke-width", 1.5);
});

// ---- axes ----
function styleAxis(g) {
  g.select(".domain").remove();
  g.attr("font-family", fontFam).attr("font-size", 16);
  g.selectAll("line").attr("stroke", black).attr("stroke-width", 1.2);
  g.selectAll("text").attr("fill", "#111");
}

function leftAxis(ys, major, minor, format) {
  let g1 = svg.append("g").attr("transform", "translate(" + left + ",0)")
    .call(d3.axisLeft(ys).tickValues(minor).tickSizeInner(-3.5).tickSizeOuter(0).tickFormat(""));
  styleAxis(g1);
  let g2 = svg.append("g").attr("transform", "translate(" + left + ",0)")
    .call(d3.axisLeft(ys).tickValues(major).tickSizeInner(-6.5).tickSizeOuter(0).tickPadding(9).tickFormat(format));
  styleAxis(g2);
}

function rightAxis(ys, major, minor, format) {
  let g1 = svg.append("g").attr("transform", "translate(" + right + ",0)")
    .call(d3.axisRight(ys).tickValues(minor).tickSizeInner(-3.5).tickSizeOuter(0).tickFormat(""));
  styleAxis(g1);
  if (major.length) {
    let g2 = svg.append("g").attr("transform", "translate(" + right + ",0)")
      .call(d3.axisRight(ys).tickValues(major).tickSizeInner(-6.5).tickSizeOuter(0).tickPadding(9).tickFormat(format));
    styleAxis(g2);
  }
}

leftAxis(yScales[0].l, [200, 400, 600, 800], d3.range(200, 901, 50), fmtInt);
rightAxis(yScales[0].r, [25, 30, 35], d3.range(25, 39, 1), fmtInt);
leftAxis(yScales[1].l, [24, 25], [23.5, 24.5, 25.5], fmtInt);
rightAxis(yScales[1].r, [307.0, 307.5, 308.0, 308.5], d3.range(306.7, 308.61, 0.1), fmt1);
leftAxis(yScales[2].l, [-4, -2, 0, 2, 4], d3.range(-4, 5.01, 1), fmtInt);
rightAxis(yScales[2].r, [5.5, 6.0, 6.5], d3.range(5.1, 6.8, 0.1), fmt1);
leftAxis(yScales[3].l, [0, 2, 4, 6], d3.range(0, 6.51, 0.5), fmtInt);
leftAxis(yScales[4].l, [500, 1000], d3.range(200, 1201, 100), fmtInt);
rightAxis(yScales[4].l, [], d3.range(200, 1201, 100), fmtInt);

// x ticks at the bottom of every panel, pointing inward
bottoms.forEach(function(b, i) {
  let g1 = svg.append("g").attr("transform", "translate(0," + b + ")")
    .call(d3.axisBottom(xScale).tickValues(d3.range(52150, 52601, 10)).tickSizeInner(-3.5).tickSizeOuter(0).tickFormat(""));
  styleAxis(g1);
  let g2 = svg.append("g").attr("transform", "translate(0," + b + ")")
    .call(d3.axisBottom(xScale).tickValues(d3.range(52150, 52601, 50)).tickSizeInner(-6.5).tickSizeOuter(0)
      .tickPadding(10).tickFormat(i === 4 ? fmtInt : ""));
  styleAxis(g2);
});

// axis titles
function vTitle(txt, x, y) {
  svg.append("text")
    .attr("transform", "translate(" + x + "," + y + ") rotate(-90)")
    .attr("text-anchor", "middle")
    .attr("dominant-baseline", "central")
    .attr("font-family", fontFam)
    .attr("font-size", 16)
    .attr("fill", "#111")
    .text(txt);
}
vTitle("W/m²", 20, 120);
vTitle("°C", 20, 335);
vTitle("m/s", 20, 523);
vTitle("m/s", 20, 730);
vTitle("m", 20, 945);
vTitle("°C", 1117, 135);
vTitle("K", 1117, 342);
vTitle("g/kg", 1117, 535);

svg.append("text")
  .attr("x", (left + right) / 2)
  .attr("y", 1056)
  .attr("text-anchor", "middle")
  .attr("font-family", fontFam)
  .attr("font-size", 17)
  .attr("fill", "#111")
  .text("Time since midnight in s");

// ---- red annotations ----
markBoxes.forEach(function(m) {
  let ys = yScales[m.panel].l;
  svg.append("rect")
    .attr("x", xScale(m.t0)).attr("y", ys(m.v1))
    .attr("width", xScale(m.t1) - xScale(m.t0))
    .attr("height", ys(m.v0) - ys(m.v1))
    .attr("fill", "none").attr("stroke", "#ff0000").attr("stroke-width", 4);
});
svg.append("circle")
  .attr("cx", xScale(markCircle.t)).attr("cy", yScales[3].l(markCircle.v))
  .attr("r", 73)
  .attr("fill", "none").attr("stroke", "#ff0000").attr("stroke-width", 4);

// ---- legends ----
let legends = [
  {top: 65, rows: [["PA_Top", "black"], ["KT15Temp", "grey"]], off: 39},
  {top: 267, rows: [["Tfast_s", "black"], ["T_pot", "grey"]], off: 39},
  {top: 470, rows: [["Vertical wind", "black"], ["Mix ratio", "grey"]], off: 39},
  {top: 672, rows: [["Horizontal wind", "arrow"], ["Wind speed", "grey"]], off: 39},
  {top: 875, rows: [["H_Baro", "black"], ["H_Relief", "grey"], ["H_Relief_Topodat", "thin"]], off: 18}
];
legends.forEach(function(L) {
  svg.append("rect")
    .attr("x", 1147).attr("y", L.top)
    .attr("width", 240).attr("height", 101)
    .attr("fill", "white").attr("stroke", "#444").attr("stroke-width", 1);
  L.rows.forEach(function(r, j) {
    let cy = L.top + L.off + j * 30.5;
    if (r[1] === "black" || r[1] === "grey") {
      svg.append("rect").attr("x", 1175).attr("y", cy - 2)
        .attr("width", 9).attr("height", 4)
        .attr("fill", r[1] === "black" ? black : grey);
    } else if (r[1] === "thin") {
      svg.append("line").attr("x1", 1175).attr("x2", 1184)
        .attr("y1", cy).attr("y2", cy)
        .attr("stroke", black).attr("stroke-width", 1);
    } else {
      // reference arrows: 5 m/s east and 5 m/s north from one corner
      svg.append("path").attr("d", arrowPath(1185, cy + 2, 5, 0, 3.6))
        .attr("fill", black).attr("stroke", black).attr("stroke-width", 1);
      svg.append("path").attr("d", arrowPath(1176, cy - 7, 0, 5, 3.6))
        .attr("fill", black).attr("stroke", black).attr("stroke-width", 1);
      svg.append("text").attr("x", 1181).attr("y", cy - 6)
        .attr("font-family", fontFam).attr("font-size", 8).text("5");
      svg.append("text").attr("x", 1176).attr("y", cy + 12)
        .attr("font-family", fontFam).attr("font-size", 8).text("5");
    }
    svg.append("text")
      .attr("x", 1197).attr("y", cy)
      .attr("dominant-baseline", "central")
      .attr("font-family", fontFam)
      .attr("font-size", 20)
      .attr("fill", "#111")
      .text(r[0]);
  });
});
</script>
</body>
</html>
